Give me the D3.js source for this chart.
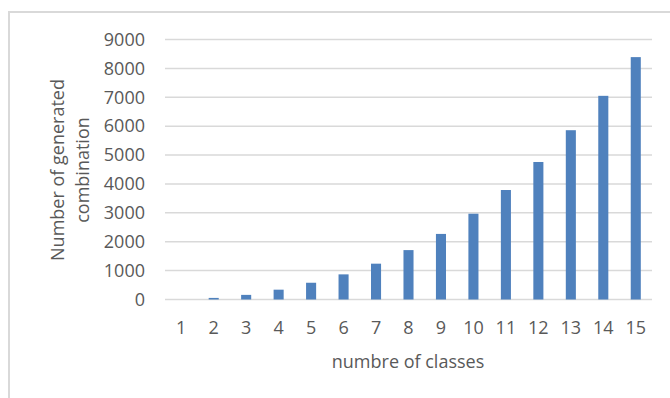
<!DOCTYPE html>
<html>
<head>
<meta charset="utf-8">
<script src="https://cdn.jsdelivr.net/npm/d3@7/dist/d3.min.js"></script>
<style>
  html, body { margin: 0; padding: 0; background: #fff; }
  svg { display: block; }
  text { font-family: "Open Sans", "Noto Sans", sans-serif; fill: #595959; }
</style>
</head>
<body>
<svg id="chart" width="670" height="398"></svg>
<script>
// Number of classes on the x axis
const classes = [1, 2, 3, 4, 5, 6, 7, 8, 9, 10, 11, 12, 13, 14, 15];
// Number of generated combinations for each class count
const combinations = [0, 55, 160, 340, 580, 870, 1240, 1710, 2270, 2970, 3790, 4760, 5860, 7050, 8390];
// Value-axis ticks
const yTicks = [0, 1000, 2000, 3000, 4000, 5000, 6000, 7000, 8000, 9000];

const xTitle = "numbre of classes";
const yTitleLines = ["Number of generated", "combination"];

const FONT = '"Open Sans", "Noto Sans", sans-serif';
const FS = 18;

const svg = d3.select("#chart");

// Outer chart frame (left and top edges)
svg.append("path")
  .attr("d", "M9,398 V12 H670")
  .attr("fill", "none")
  .attr("stroke", "#d9d9d9")
  .attr("stroke-width", 2);

const plot = { left: 165, right: 652, top: 39.5, bottom: 299.5 };

const x = d3.scaleBand()
  .domain(classes)
  .range([plot.left, plot.right])
  .paddingInner(0.69)
  .paddingOuter(0.345);

const y = d3.scaleLinear()
  .domain([0, 9000])
  .range([plot.bottom, plot.top]);

// Horizontal gridlines
svg.append("g")
  .selectAll("line")
  .data(yTicks)
  .join("line")
  .attr("x1", plot.left)
  .attr("x2", plot.right)
  .attr("y1", d => y(d))
  .attr("y2", d => y(d))
  .attr("stroke", "#d9d9d9")
  .attr("stroke-width", 1.5);

// Bars
svg.append("g")
  .selectAll("rect")
  .data(classes)
  .join("rect")
  .attr("x", d => x(d))
  .attr("width", x.bandwidth())
  .attr("y", (d, i) => y(combinations[i]))
  .attr("height", (d, i) => y(0) - y(combinations[i]))
  .attr("fill", "#4f81bd");

// Y axis labels
const yAxis = d3.axisLeft(y).tickValues(yTicks).tickFormat(d3.format("d")).tickSize(0).tickPadding(0);
svg.append("g")
  .attr("transform", "translate(145,0)")
  .call(yAxis)
  .call(g => g.select(".domain").remove())
  .call(g => g.selectAll("text")
    .attr("font-size", FS)
    .attr("fill", "#595959")
    .style("font-family", FONT));

// X axis labels
const xAxis = d3.axisBottom(x).tickSize(0).tickPadding(0);
svg.append("g")
  .attr("transform", "translate(0,321)")
  .call(xAxis)
  .call(g => g.select(".domain").remove())
  .call(g => g.selectAll("text")
    .attr("font-size", FS)
    .attr("fill", "#595959")
    .style("font-family", FONT));

// Axis titles
svg.append("text")
  .attr("x", 408)
  .attr("y", 368)
  .attr("text-anchor", "middle")
  .attr("font-size", FS)
  .text(xTitle);

const yTitle = svg.append("text")
  .attr("transform", "translate(63.5,170) rotate(-90)")
  .attr("text-anchor", "middle")
  .attr("font-size", FS);
yTitle.selectAll("tspan")
  .data(yTitleLines)
  .join("tspan")
  .attr("x", 0)
  .attr("dy", (d, i) => i === 0 ? 0 : 25)
  .text(d => d);
</script>
</body>
</html>
